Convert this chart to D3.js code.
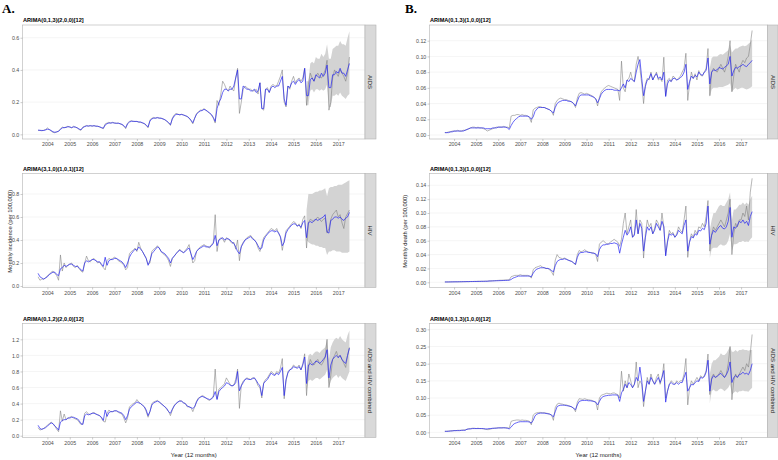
<!DOCTYPE html>
<html>
<head>
<meta charset="utf-8">
<script src="https://cdn.jsdelivr.net/npm/d3@7"></script>
<style>
body { margin: 0; background: #fff; }
text { font-family: "Liberation Sans", Arial, sans-serif; }
</style>
</head>
<body>
<script>
// monthly series, 168 months; the series start at month 8 of 2003 on the x axis
var startYear = 2003 + 7 / 12;
var years = d3.range(2004, 2018);
var nFc = 24; // last 24 months are forecast with 95% band

// ---------- A. incidence ----------
var aidsIncObs = [
.025,.024,.022,.025,.03,.04,.03,.02,.012,.01,.015,.02,
.035,.045,.04,.045,.05,.045,.04,.05,.045,.04,.03,.025,
.045,.05,.055,.05,.055,.05,.055,.05,.05,.045,.04,.035,
.065,.07,.075,.07,.075,.07,.068,.07,.065,.06,.05,.035,
.07,.08,.085,.08,.08,.08,.075,.075,.07,.065,.055,.04,
.09,.1,.105,.1,.105,.1,.1,.095,.09,.08,.07,.055,
.1,.12,.13,.125,.12,.125,.12,.115,.11,.1,.085,.065,
.1,.13,.14,.15,.15,.16,.15,.14,.13,.12,.1,.07,
.21,.18,.25,.33,.31,.28,.27,.3,.28,.27,.35,.41,
.13,.2,.28,.3,.29,.28,.28,.27,.27,.28,.25,.32,
.16,.15,.28,.29,.26,.3,.31,.3,.3,.33,.36,.4,
.2,.17,.3,.28,.33,.36,.32,.34,.35,.33,.35,.41,
.18,.31,.38,.35,.33,.36,.38,.36,.35,.37,.4,.46,
.15,.2,.35,.4,.38,.36,.4,.38,.36,.33,.38,.48];
var aidsIncFit = [
.026,.025,.024,.024,.027,.032,.03,.024,.016,.013,.015,.019,
.03,.04,.042,.043,.047,.046,.042,.046,.045,.04,.033,.028,
.042,.048,.052,.052,.053,.052,.053,.051,.05,.047,.042,.038,
.058,.066,.07,.07,.072,.07,.069,.069,.066,.062,.054,.042,
.065,.076,.081,.081,.08,.08,.077,.076,.072,.067,.058,.046,
.082,.096,.1,.101,.103,.101,.1,.096,.091,.083,.073,.06,
.095,.114,.124,.124,.122,.123,.12,.116,.111,.102,.088,.072,
.1,.125,.136,.145,.148,.155,.15,.142,.133,.123,.105,.08,
.16,.2,.22,.26,.28,.28,.27,.28,.28,.3,.35,.4,
.22,.22,.3,.29,.28,.28,.27,.27,.28,.26,.27,.32,
.16,.16,.28,.28,.26,.29,.3,.29,.3,.3,.33,.36,
.22,.18,.3,.29,.32,.33,.31,.33,.34,.32,.33,.41,
.24,.24,.34,.35,.33,.37,.36,.35,.38,.36,.38,.43,
.29,.29,.37,.37,.39,.38,.41,.38,.38,.36,.4,.44];
var aidsIncLo = [.18,.18,.27,.28,.26,.28,.28,.27,.28,.27,.28,.31, .17,.17,.24,.24,.25,.24,.26,.24,.23,.22,.24,.25];
var aidsIncHi = [.33,.33,.44,.45,.44,.48,.47,.47,.5,.48,.5,.56, .47,.47,.53,.54,.55,.55,.58,.56,.56,.55,.6,.64];

var hivIncObs = [
.08,.05,.06,.06,.07,.09,.1,.12,.13,.11,.09,.05,
.27,.13,.2,.16,.18,.19,.2,.17,.16,.18,.15,.13,
.12,.2,.26,.22,.21,.23,.24,.22,.2,.21,.18,.16,
.14,.22,.24,.23,.24,.25,.24,.22,.21,.2,.18,.14,
.16,.28,.3,.31,.33,.3,.38,.33,.3,.27,.24,.19,
.2,.3,.32,.33,.35,.33,.3,.28,.27,.25,.22,.17,
.24,.26,.28,.3,.32,.3,.29,.31,.33,.36,.28,.2,
.22,.3,.32,.34,.35,.36,.35,.34,.33,.36,.38,.62,
.3,.4,.42,.41,.38,.42,.41,.39,.37,.38,.32,.4,
.22,.35,.38,.4,.42,.43,.44,.42,.4,.38,.33,.3,
.36,.42,.44,.46,.48,.5,.49,.48,.5,.46,.42,.31,
.4,.48,.5,.52,.54,.56,.55,.52,.54,.5,.58,.61,
.33,.55,.58,.57,.56,.58,.6,.58,.56,.58,.59,.46,
.5,.58,.62,.64,.66,.6,.62,.55,.5,.6,.63,.66];
var hivIncFit = [
.11,.08,.07,.06,.07,.08,.1,.11,.12,.12,.1,.09,
.15,.16,.18,.17,.18,.19,.19,.18,.17,.17,.16,.14,
.13,.2,.22,.21,.22,.23,.23,.22,.21,.21,.19,.17,
.25,.18,.22,.23,.23,.24,.24,.23,.22,.21,.19,.16,
.2,.25,.28,.3,.32,.31,.34,.32,.3,.27,.24,.18,
.22,.28,.3,.32,.34,.33,.3,.29,.28,.26,.24,.2,
.24,.26,.28,.3,.31,.3,.29,.3,.32,.33,.28,.23,
.26,.3,.32,.33,.34,.35,.34,.34,.34,.35,.37,.44,
.35,.4,.41,.42,.4,.41,.41,.4,.38,.37,.34,.3,
.28,.34,.37,.4,.41,.42,.43,.41,.4,.38,.35,.32,
.33,.4,.43,.45,.47,.48,.48,.47,.48,.46,.43,.35,
.38,.46,.49,.51,.53,.54,.54,.52,.53,.51,.55,.57,
.42,.55,.56,.55,.57,.58,.57,.58,.59,.6,.62,.47,
.46,.57,.58,.6,.6,.59,.6,.58,.57,.59,.6,.64];
var hivIncLo = [.4,.38,.37,.36,.36,.35,.35,.34,.34,.33,.33,.27, .3,.3,.31,.31,.3,.3,.3,.29,.29,.29,.29,.3];
var hivIncHi = [.66,.8,.8,.8,.81,.82,.82,.83,.83,.84,.85,.78, .85,.86,.86,.87,.87,.88,.88,.88,.89,.9,.91,.92];

var bothIncObs = [
.1,.07,.08,.09,.11,.13,.15,.17,.15,.12,.08,.05,
.31,.18,.27,.2,.22,.23,.24,.22,.21,.2,.17,.14,
.15,.28,.3,.27,.26,.28,.29,.27,.26,.25,.22,.18,
.17,.28,.32,.3,.3,.31,.31,.29,.28,.27,.22,.16,
.22,.36,.38,.4,.41,.45,.42,.4,.38,.36,.3,.23,
.3,.4,.42,.43,.44,.42,.4,.38,.36,.33,.3,.25,
.32,.38,.4,.42,.44,.43,.41,.4,.36,.36,.35,.3,
.36,.43,.47,.48,.5,.49,.47,.45,.44,.46,.5,.83,
.46,.58,.6,.62,.65,.72,.68,.64,.62,.63,.7,.83,
.34,.63,.68,.7,.72,.71,.7,.72,.72,.68,.62,.6,
.47,.66,.7,.72,.76,.8,.78,.76,.8,.78,.84,.96,
.46,.68,.8,.82,.84,.88,.86,.85,.88,.82,.9,1.02,
.5,.85,.95,.9,.88,.92,.95,.9,.88,.92,.98,1.2,
.6,.75,.95,1.0,1.05,.98,1.0,.95,.9,.85,1.0,1.1];
var bothIncFit = [
.13,.09,.08,.09,.1,.12,.14,.16,.15,.12,.1,.07,
.17,.19,.2,.2,.22,.22,.23,.23,.22,.21,.19,.15,
.14,.25,.27,.26,.27,.28,.28,.27,.26,.25,.23,.19,
.32,.24,.29,.3,.3,.31,.31,.3,.29,.28,.25,.2,
.25,.33,.36,.38,.4,.42,.41,.4,.38,.36,.32,.25,
.3,.38,.41,.42,.43,.42,.4,.38,.36,.34,.3,.28,
.33,.37,.4,.42,.43,.43,.41,.4,.37,.36,.35,.34,
.36,.42,.46,.48,.49,.48,.47,.46,.45,.46,.48,.55,
.45,.55,.58,.6,.62,.66,.65,.63,.62,.63,.66,.8,
.56,.62,.66,.7,.71,.7,.7,.71,.72,.69,.65,.62,
.5,.65,.68,.7,.74,.78,.76,.75,.78,.76,.8,.85,
.5,.7,.78,.82,.83,.86,.85,.84,.86,.82,.88,.98,
.65,.88,.9,.88,.9,.93,.92,.9,.92,.95,.98,1.07,
.72,.88,.95,.98,1.0,.97,1.0,.95,.92,.9,1.0,1.09];
var bothIncLo = [.55,.68,.7,.68,.7,.72,.72,.7,.72,.74,.76,.82, .6,.68,.72,.74,.76,.72,.75,.72,.7,.68,.74,.8];
var bothIncHi = [.85,1.0,1.02,1.0,1.03,1.05,1.05,1.03,1.06,1.08,1.1,1.2, .95,1.1,1.16,1.2,1.22,1.2,1.24,1.2,1.18,1.16,1.25,1.31];

// ---------- B. deaths ----------
var aidsDthObs = [
.003,.003,.004,.004,.005,.005,.005,.006,.005,.005,.006,.006,
.007,.008,.009,.01,.01,.009,.01,.009,.009,.008,.007,.005,
.006,.007,.008,.009,.01,.01,.01,.01,.011,.01,.01,.009,
.024,.025,.025,.026,.026,.025,.026,.025,.025,.024,.022,.016,
.032,.034,.035,.036,.036,.035,.035,.034,.033,.032,.03,.025,
.04,.044,.046,.047,.046,.045,.045,.044,.043,.042,.04,.035,
.047,.053,.054,.053,.052,.053,.052,.051,.05,.048,.046,.037,
.048,.055,.058,.06,.062,.063,.062,.061,.06,.059,.058,.044,
.094,.06,.055,.07,.072,.08,.07,.068,.09,.1,.085,.065,
.04,.065,.072,.07,.08,.07,.075,.08,.07,.072,.068,.099,
.05,.07,.072,.068,.075,.073,.07,.072,.075,.08,.085,.104,
.044,.065,.08,.072,.078,.07,.082,.076,.075,.08,.085,.11,
.05,.08,.085,.082,.08,.085,.09,.085,.08,.088,.1,.12,
.055,.075,.09,.085,.08,.09,.095,.092,.098,.1,.115,.133];
var aidsDthFit = [
.003,.003,.003,.004,.004,.005,.005,.005,.005,.005,.005,.006,
.007,.008,.009,.009,.009,.009,.009,.009,.009,.009,.008,.008,
.008,.008,.009,.009,.009,.01,.01,.01,.01,.01,.009,.007,
.012,.016,.019,.021,.023,.024,.024,.024,.024,.024,.023,.02,
.023,.03,.033,.035,.035,.035,.035,.034,.033,.032,.03,.028,
.035,.04,.042,.043,.044,.044,.044,.043,.043,.042,.04,.037,
.043,.049,.051,.051,.051,.051,.051,.05,.049,.048,.046,.041,
.046,.052,.055,.057,.058,.058,.058,.058,.057,.057,.057,.056,
.06,.065,.06,.07,.068,.072,.07,.068,.08,.09,.096,.072,
.05,.062,.07,.072,.078,.07,.075,.078,.072,.074,.07,.08,
.049,.065,.07,.068,.072,.072,.07,.071,.073,.075,.08,.09,
.058,.068,.075,.072,.076,.074,.08,.077,.076,.08,.082,.098,
.065,.08,.083,.082,.083,.086,.085,.084,.086,.088,.09,.1,
.075,.082,.086,.085,.087,.088,.09,.088,.087,.09,.092,.095];
var aidsDthLo = [.048,.058,.06,.06,.06,.061,.061,.061,.062,.063,.064,.066, .055,.058,.06,.058,.059,.06,.06,.059,.058,.059,.06,.062];
var aidsDthHi = [.085,.098,.1,.1,.1,.102,.103,.102,.104,.106,.108,.115, .105,.108,.11,.11,.112,.113,.114,.113,.114,.116,.118,.122];

var hivDthObs = [
.0005,.0005,.0006,.0006,.0007,.0007,.0008,.0008,.0008,.0009,.0009,.001,
.001,.001,.0012,.0012,.0013,.0013,.0014,.0014,.0015,.0015,.0016,.0016,
.002,.002,.0022,.0024,.0026,.0028,.003,.003,.0032,.0034,.0035,.0035,
.008,.009,.01,.01,.01,.011,.01,.01,.01,.01,.009,.006,
.018,.021,.022,.023,.024,.022,.021,.02,.02,.018,.015,.01,
.032,.04,.036,.035,.034,.035,.034,.032,.031,.03,.028,.025,
.04,.046,.044,.045,.047,.045,.044,.043,.043,.042,.04,.03,
.055,.058,.06,.058,.055,.056,.058,.06,.062,.06,.058,.052,
.062,.085,.1,.07,.08,.09,.065,.07,.105,.07,.09,.085,
.035,.07,.09,.08,.085,.07,.078,.09,.085,.075,.1,.08,
.04,.06,.075,.07,.072,.065,.07,.08,.075,.072,.09,.11,
.036,.06,.07,.065,.075,.07,.08,.078,.085,.08,.095,.118,
.045,.07,.08,.075,.08,.085,.09,.085,.08,.09,.1,.12,
.04,.07,.085,.08,.09,.09,.1,.095,.11,.09,.13,.15];
var hivDthFit = [
.0005,.0005,.0005,.0006,.0006,.0007,.0007,.0007,.0008,.0008,.0009,.0009,
.001,.001,.0011,.0011,.0012,.0012,.0013,.0013,.0014,.0014,.0015,.0015,
.0018,.0019,.002,.0021,.0022,.0023,.0024,.0025,.0026,.0027,.0028,.003,
.004,.006,.007,.008,.009,.009,.009,.009,.009,.009,.009,.008,
.013,.017,.019,.02,.021,.021,.021,.02,.02,.019,.017,.015,
.024,.03,.032,.033,.033,.034,.033,.032,.031,.03,.028,.026,
.036,.042,.043,.043,.044,.044,.043,.043,.042,.042,.041,.037,
.047,.052,.054,.054,.055,.055,.056,.056,.057,.056,.055,.042,
.055,.065,.075,.068,.072,.08,.065,.068,.09,.07,.085,.078,
.045,.065,.08,.075,.08,.07,.075,.085,.08,.075,.088,.08,
.038,.058,.07,.068,.07,.065,.068,.075,.072,.07,.082,.09,
.045,.058,.066,.064,.07,.068,.075,.074,.078,.076,.085,.11,
.055,.068,.075,.072,.076,.08,.082,.078,.077,.08,.088,.108,
.065,.08,.078,.082,.088,.086,.09,.085,.088,.082,.095,.102];
var hivDthLo = [.035,.048,.05,.05,.05,.053,.055,.053,.053,.055,.06,.07, .045,.055,.055,.056,.058,.058,.06,.058,.059,.058,.062,.065];
var hivDthHi = [.075,.09,.1,.1,.105,.11,.112,.11,.11,.115,.12,.13, .09,.105,.105,.108,.112,.112,.115,.112,.115,.112,.12,.125];

var bothDthObs = [
.003,.003,.004,.004,.005,.005,.005,.006,.006,.006,.007,.007,
.009,.01,.011,.012,.012,.011,.012,.011,.011,.01,.009,.008,
.008,.01,.011,.012,.013,.013,.013,.013,.014,.013,.013,.012,
.032,.034,.035,.036,.036,.035,.036,.035,.035,.034,.032,.022,
.05,.055,.057,.058,.058,.057,.057,.056,.055,.053,.05,.035,
.072,.082,.085,.083,.082,.08,.08,.078,.076,.074,.07,.06,
.088,.098,.097,.096,.098,.096,.095,.094,.093,.09,.088,.065,
.1,.108,.11,.112,.114,.113,.112,.114,.115,.112,.11,.1,
.178,.12,.15,.13,.17,.15,.13,.14,.205,.13,.15,.14,
.075,.12,.16,.14,.17,.15,.14,.16,.17,.14,.16,.2,
.1,.12,.14,.15,.145,.14,.15,.145,.15,.15,.17,.215,
.08,.13,.15,.14,.15,.16,.15,.165,.16,.165,.18,.228,
.11,.16,.17,.16,.165,.17,.18,.17,.16,.17,.2,.25,
.095,.15,.17,.16,.17,.18,.19,.18,.2,.19,.23,.285];
var bothDthFit = [
.003,.003,.003,.004,.004,.005,.005,.005,.005,.006,.006,.006,
.009,.01,.01,.011,.011,.011,.011,.011,.011,.011,.01,.01,
.011,.011,.012,.012,.012,.013,.013,.013,.013,.013,.012,.01,
.015,.022,.026,.028,.03,.031,.031,.031,.031,.031,.03,.027,
.035,.048,.053,.055,.056,.056,.056,.055,.054,.053,.05,.045,
.06,.075,.078,.079,.079,.079,.078,.077,.076,.074,.07,.066,
.08,.09,.092,.093,.093,.093,.092,.092,.091,.09,.088,.08,
.09,.1,.104,.106,.107,.108,.108,.109,.109,.109,.108,.09,
.115,.125,.14,.13,.145,.14,.13,.14,.16,.15,.19,.15,
.09,.12,.15,.14,.16,.15,.14,.15,.16,.145,.16,.18,
.088,.12,.14,.145,.14,.14,.145,.14,.145,.145,.16,.175,
.12,.13,.14,.138,.145,.15,.148,.16,.158,.162,.175,.21,
.12,.155,.165,.16,.163,.168,.172,.165,.16,.168,.18,.205,
.145,.16,.165,.16,.168,.17,.175,.17,.172,.168,.18,.2];
var bothDthLo = [.085,.12,.125,.12,.12,.125,.128,.125,.12,.125,.13,.14, .11,.115,.12,.115,.12,.12,.122,.12,.12,.118,.125,.13];
var bothDthHi = [.17,.2,.21,.21,.215,.22,.23,.225,.225,.23,.24,.25, .235,.235,.24,.235,.24,.24,.242,.24,.24,.238,.24,.24];

// ---------- layout ----------
var width = 778, height = 460;
var tops = [25, 173.5, 323.5];
var facetH = 114;
var grey = "#4d4d4d";

var svg = d3.select("body").append("svg")
    .attr("width", width)
    .attr("height", height);

var panels = [
  { tag: "A.", tagX: 2, left: 22.5, right: 365, stripW: 11,
    ylab: "Monthly incidence (per 100,000)", ylabX: 9.5,
    facets: [
      { title: "ARIMA(0,1,3)(2,0,0)[12]", strip: "AIDS", obs: aidsIncObs, fit: aidsIncFit, lo: aidsIncLo, hi: aidsIncHi,
        dom: [-0.029, 0.679], ticks: [0, 0.2, 0.4, 0.6], fmt: ".1f" },
      { title: "ARIMA(3,1,0)(1,0,1)[12]", strip: "HIV", obs: hivIncObs, fit: hivIncFit, lo: hivIncLo, hi: hivIncHi,
        dom: [-0.013, 0.978], ticks: [0, 0.2, 0.4, 0.6, 0.8], fmt: ".1f" },
      { title: "ARIMA(0,1,2)(2,0,0)[12]", strip: "AIDS and HIV combined", obs: bothIncObs, fit: bothIncFit, lo: bothIncLo, hi: bothIncHi,
        dom: [-0.022, 1.397], ticks: [0, 0.2, 0.4, 0.6, 0.8, 1.0, 1.2], fmt: ".1f" }
    ] },
  { tag: "B.", tagX: 405, left: 429.5, right: 767.5, stripW: 10.5,
    ylab: "Monthly death (per 100,000)", ylabX: 405,
    facets: [
      { title: "ARIMA(0,1,3)(1,0,0)[12]", strip: "AIDS", obs: aidsDthObs, fit: aidsDthFit, lo: aidsDthLo, hi: aidsDthHi,
        dom: [-0.0051, 0.140], ticks: [0, 0.02, 0.04, 0.06, 0.08, 0.10, 0.12], fmt: ".2f" },
      { title: "ARIMA(0,1,3)(1,0,0)[12]", strip: "HIV", obs: hivDthObs, fit: hivDthFit, lo: hivDthLo, hi: hivDthHi,
        dom: [-0.0075, 0.157], ticks: [0, 0.02, 0.04, 0.06, 0.08, 0.10, 0.12, 0.14], fmt: ".2f" },
      { title: "ARIMA(0,1,3)(1,0,0)[12]", strip: "AIDS and HIV combined", obs: bothDthObs, fit: bothDthFit, lo: bothDthLo, hi: bothDthHi,
        dom: [-0.015, 0.317], ticks: [0, 0.05, 0.10, 0.15, 0.20, 0.25, 0.30], fmt: ".2f" }
    ] }
];

var nMonths = aidsIncObs.length;
var t0 = startYear, t1 = startYear + (nMonths - 1) / 12;
var pad = (t1 - t0) * 0.05;

panels.forEach(function(p) {
  svg.append("text")
    .attr("x", p.tagX)
    .attr("y", 13)
    .style("font-family", "'Liberation Serif', 'Times New Roman', serif")
    .style("font-weight", "bold")
    .style("font-size", "13px")
    .text(p.tag);

  var x = d3.scaleLinear().domain([t0 - pad, t1 + pad]).range([p.left, p.right]);

  p.facets.forEach(function(f, k) {
    var top = tops[k], bottom = top + facetH;
    var y = d3.scaleLinear().domain(f.dom).range([bottom, top]);
    var g = svg.append("g");

    var clipId = "clip" + p.tag[0] + k;
    g.append("clipPath").attr("id", clipId)
      .append("rect").attr("x", p.left).attr("y", top)
      .attr("width", p.right - p.left).attr("height", facetH);

    // grid
    g.selectAll(".grid").data(f.ticks).enter().append("line")
      .attr("x1", p.left).attr("x2", p.right)
      .attr("y1", function(d) { return y(d); })
      .attr("y2", function(d) { return y(d); })
      .attr("stroke", "#ebebeb").attr("stroke-width", 0.5);

    var pts = f.obs.map(function(v, i) { return { t: t0 + i / 12, obs: v, fit: f.fit[i] }; });
    var fc = f.lo.map(function(v, i) { return { t: t0 + (nMonths - nFc + i) / 12, lo: v, hi: f.hi[i] }; });

    var plot = g.append("g").attr("clip-path", "url(#" + clipId + ")");

    plot.append("path").datum(fc)
      .attr("fill", "#d3d3d3")
      .attr("d", d3.area()
        .x(function(d) { return x(d.t); })
        .y0(function(d) { return y(d.lo); })
        .y1(function(d) { return y(d.hi); }));

    plot.append("path").datum(pts)
      .attr("fill", "none").attr("stroke", "#7a7a7a").attr("stroke-width", 0.55)
      .attr("d", d3.line().x(function(d) { return x(d.t); }).y(function(d) { return y(d.obs); }));

    plot.append("path").datum(pts)
      .attr("fill", "none").attr("stroke", "#2424f2").attr("stroke-width", 0.7)
      .attr("d", d3.line().x(function(d) { return x(d.t); }).y(function(d) { return y(d.fit); }));

    // panel border
    g.append("rect")
      .attr("x", p.left).attr("y", top)
      .attr("width", p.right - p.left).attr("height", facetH)
      .attr("fill", "none").attr("stroke", "#b3b3b3").attr("stroke-width", 0.6);

    // strip
    g.append("rect")
      .attr("x", p.right).attr("y", top)
      .attr("width", p.stripW).attr("height", facetH)
      .attr("fill", "#d9d9d9").attr("stroke", "#b3b3b3").attr("stroke-width", 0.6);
    g.append("text")
      .attr("transform", "translate(" + (p.right + p.stripW / 2) + "," + (top + facetH / 2) + ") rotate(90)")
      .attr("text-anchor", "middle")
      .attr("dy", "0.35em")
      .style("font-size", "6px")
      .style("fill", "#1a1a1a")
      .text(f.strip);

    // axes
    var yAxis = d3.axisLeft(y).tickValues(f.ticks).tickFormat(d3.format(f.fmt)).tickSize(2).tickPadding(1.2);
    var ya = g.append("g").attr("transform", "translate(" + p.left + ",0)").call(yAxis);
    var xAxis = d3.axisBottom(x).tickValues(years).tickFormat(d3.format("d")).tickSize(2).tickPadding(1.5);
    var xa = g.append("g").attr("transform", "translate(0," + bottom + ")").call(xAxis);
    [ya, xa].forEach(function(a) {
      a.select(".domain").remove();
      a.selectAll("line").attr("stroke", "#999").attr("stroke-width", 0.5);
      a.selectAll("text").style("font-size", "5.3px").style("fill", grey)
        .style("font-family", "'Liberation Sans', Arial, sans-serif");
    });

    // facet title
    g.append("text")
      .attr("x", p.left + 0.5)
      .attr("y", top - 3)
      .style("font-size", "5.6px")
      .style("font-weight", "bold")
      .style("fill", "#000")
      .text(f.title);
  });

  svg.append("text")
    .attr("transform", "translate(" + p.ylabX + "," + (tops[0] + (tops[2] + facetH - tops[0]) / 2) + ") rotate(-90)")
    .attr("text-anchor", "middle")
    .attr("dy", "0.35em")
    .style("font-size", "5.8px")
    .style("fill", "#1a1a1a")
    .text(p.ylab);

  svg.append("text")
    .attr("x", (p.left + p.right) / 2)
    .attr("y", 457)
    .attr("text-anchor", "middle")
    .style("font-size", "6px")
    .style("fill", "#1a1a1a")
    .text("Year (12 months)");
});
</script>
</body>
</html>
